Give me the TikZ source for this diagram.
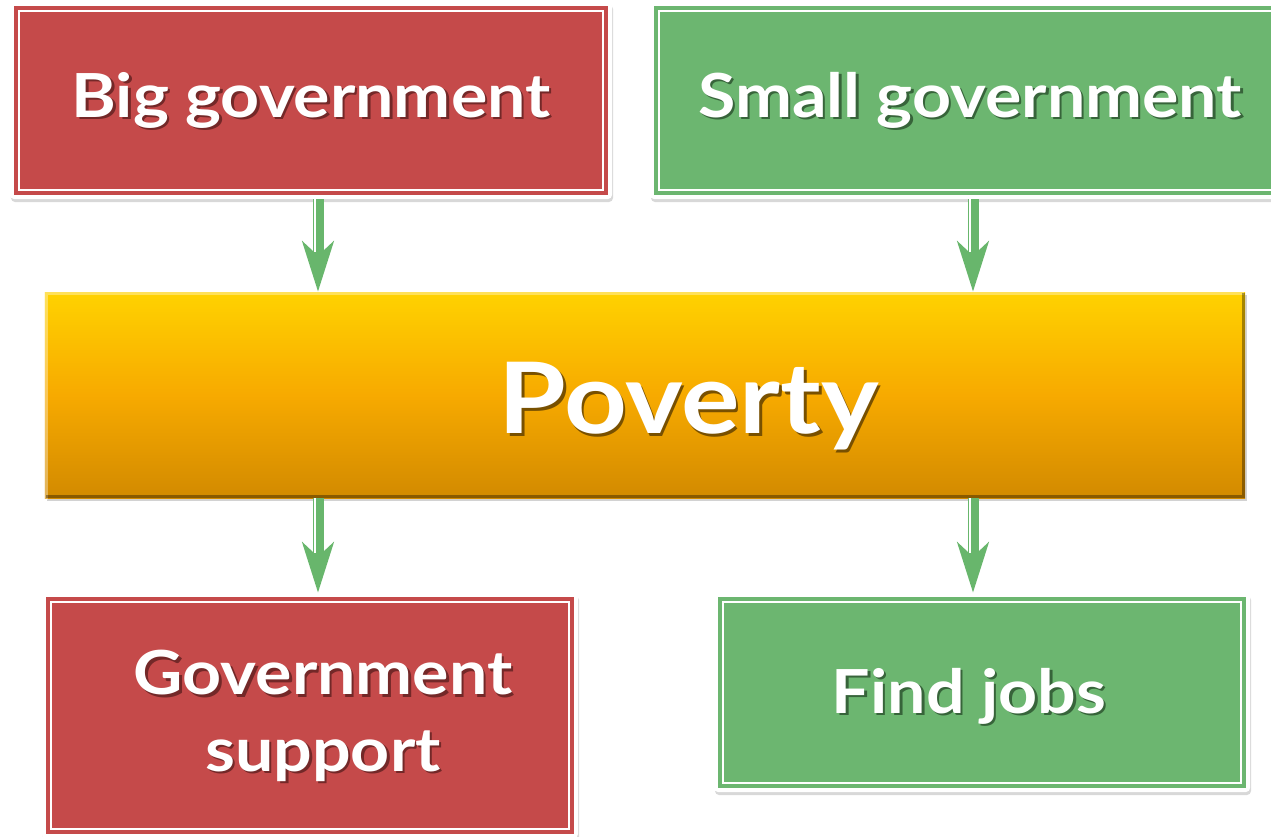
\documentclass[tikz,border=0pt]{standalone}
\usepackage{fontspec}
\setmainfont{Lato}
\newfontfamily\panelfont{Lato}[FakeStretch=1.12]
\newfontfamily\bigfont{Lato}[FakeStretch=1.11]
\usetikzlibrary{arrows.meta,shadows,calc}
\definecolor{boxred}{RGB}{197,74,74}
\definecolor{boxgreen}{RGB}{108,182,112}
\definecolor{arrowgreen}{RGB}{104,182,108}
\definecolor{redshade}{RGB}{115,40,40}
\definecolor{greenshade}{RGB}{55,100,58}
\definecolor{orangeshade}{RGB}{120,80,0}
\newcommand\shtext[2]{\makebox[0pt][l]{\hspace{2.5bp}\raisebox{-2.5bp}{\textcolor{#1}{#2}}}#2}
\newcommand\lowered[2]{\raisebox{#1}[\height][\depth]{#2}}
\tikzset{
  panel/.style={rectangle, rounded corners=4bp, fill=white, draw=none,
    drop shadow={opacity=0.3, shadow xshift=1bp, shadow yshift=-3bp},
    text=white, font=\panelfont\bfseries\fontsize{61}{77}\selectfont, align=center, inner sep=0pt,
    path picture={
      \fill[#1, sharp corners] ([shift={(4bp,4bp)}]path picture bounding box.south west) rectangle ([shift={(-4bp,-4bp)}]path picture bounding box.north east);
      \draw[white, line width=1.8bp, sharp corners] ([shift={(9bp,9bp)}]path picture bounding box.south west) rectangle ([shift={(-9bp,-9bp)}]path picture bounding box.north east);}},
  central/.style={rectangle, draw=none, inner sep=0pt,
    top color={rgb,255:red,255;green,210;blue,0}, bottom color={rgb,255:red,210;green,138;blue,0},
    middle color={rgb,255:red,247;green,170;blue,0},
    drop shadow={opacity=0.35, shadow xshift=2bp, shadow yshift=-3bp},
    text=white, font=\bigfont\bfseries\fontsize{99}{110}\selectfont},
  bevel/.style={line width=3bp, draw opacity=0.35},
  flow/.style={draw=arrowgreen, line width=11bp, -{Stealth[length=50bp, width=31bp, inset=14bp]}},
  flowline/.style={draw=white, line width=1.5bp},
}
\begin{document}
\begin{tikzpicture}[x=1bp, y=-1bp]
\clip (0,0) rectangle (1271,837);
\fill[white] (0,0) rectangle (1271,837);
\node[panel=boxred, minimum width=602bp, minimum height=197bp] (big) at (311,100.5)
  {\lowered{-1bp}{\shtext{redshade}{Big government}}};
\node[panel=boxgreen, minimum width=640bp, minimum height=197bp] (small) at (970,100.5)
  {\lowered{-1bp}{\shtext{greenshade}{Small government}}};
\node[central, minimum width=1200bp, minimum height=206bp] (pov) at (645,395)
  {\hspace*{88bp}\lowered{-12.5bp}{\shtext{orangeshade}{Poverty}}};
\draw[bevel, white] ([shift={(1.5bp,-1.5bp)}]pov.south west) -- ([shift={(1.5bp,-1.5bp)}]pov.north west) -- ([shift={(-1.5bp,-1.5bp)}]pov.north east);
\draw[bevel, black] ([shift={(1.5bp,1.5bp)}]pov.south west) -- ([shift={(-1.5bp,1.5bp)}]pov.south east) -- ([shift={(-1.5bp,-1.5bp)}]pov.north east);
\node[panel=boxred, minimum width=536bp, minimum height=245bp] (sup) at (310,715.5)
  {\lowered{-1.5bp}{\hspace*{26bp}\shtext{redshade}{Government}}\\\lowered{-1.5bp}{\hspace*{26bp}\shtext{redshade}{support}}};
\node[panel=boxgreen, minimum width=536bp, minimum height=199bp] (jobs) at (982,692.5)
  {\hspace*{-26bp}\lowered{-5bp}{\shtext{greenshade}{Find jobs}}};
% arrows
\draw[flow] ([xshift=7bp]big.south) -- ([xshift=7bp]big.south |- pov.north);
\draw[flowline] ([xshift=4bp]big.south) -- ($(big.south |- pov.north)+(4bp,40bp)$);
\draw[flow] ([xshift=3bp]small.south) -- ([xshift=3bp]small.south |- pov.north);
\draw[flowline] ([xshift=0bp]small.south) -- ($(small.south |- pov.north)+(0bp,40bp)$);
\draw[flow] ([xshift=8bp]sup.north |- pov.south) -- ([xshift=8bp]sup.north);
\draw[flowline] ([xshift=5bp]sup.north |- pov.south) -- ($(sup.north)+(5bp,40bp)$);
\draw[flow] ([xshift=-9bp]jobs.north |- pov.south) -- ([xshift=-9bp]jobs.north);
\draw[flowline] ([xshift=-12bp]jobs.north |- pov.south) -- ($(jobs.north)+(-12bp,40bp)$);
\end{tikzpicture}
\end{document}
